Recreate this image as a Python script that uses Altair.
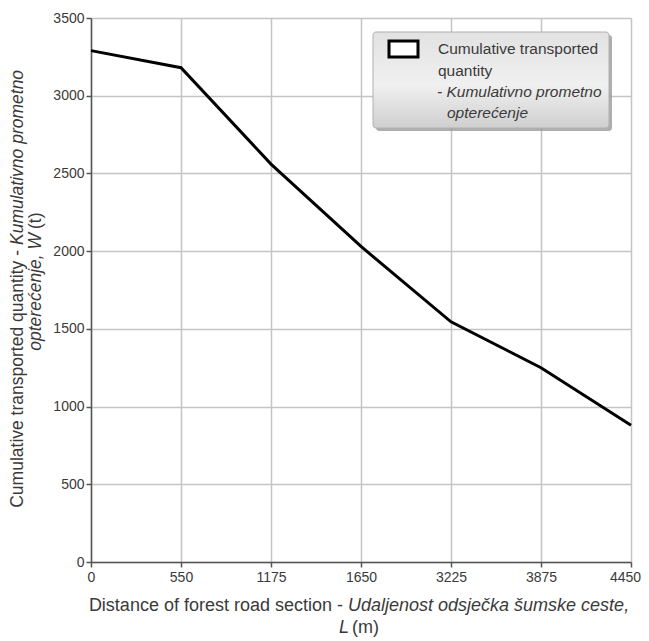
import altair as alt
import pandas as pd

# ---- data ----
distance_labels = ["0", "550", "1175", "1650", "3225", "3875", "4450"]
transported = [3290, 3180, 2560, 2030, 1545, 1250, 880]
y_ticks = [0, 500, 1000, 1500, 2000, 2500, 3000, 3500]

legend_lines = ["Cumulative transported", "quantity"]
legend_lines_it = ["- Kumulativno prometno", "opterećenje"]
x_title_1 = ["Distance of forest road section -", "Udaljenost odsječka šumske ceste,"]
x_title_2 = ["L", "(m)"]
y_title_1 = ["Cumulative transported quantity -", "Kumulativno prometno"]
y_title_2 = ["opterećenje, W", "(t)"]

FONT = "Liberation Sans"
TXT = "#3a3a3a"

df = pd.DataFrame({"L": distance_labels, "W": transported})
one = pd.DataFrame({"k": [0]})

x_enc = alt.X("L:O", sort=distance_labels,
              scale=alt.Scale(padding=0),
              axis=alt.Axis(title=None, labelAngle=0, grid=True, labelPadding=3,
                            labelOffset={"condition": {"test": "datum.label == '4450'", "value": -6},
                                         "value": 0}))
y_enc = alt.Y("W:Q", scale=alt.Scale(domain=[0, 3500], nice=False),
              axis=alt.Axis(title=None, values=y_ticks, format="d", grid=True, labelPadding=2))

line = alt.Chart(df).mark_line(color="black", strokeWidth=3).encode(x=x_enc, y=y_enc)


def txt(s, x, y, italic=False, align="left", angle=0, size=18, color=TXT):
    kw = dict(font=FONT, fontSize=size, color=color, align=align, baseline="middle")
    if italic:
        kw["fontStyle"] = "italic"
    if angle:
        kw["angle"] = angle
    return alt.Chart(pd.DataFrame({"t": [s]})).mark_text(**kw).encode(
        text="t:N", x=alt.value(x), y=alt.value(y))


# legend box
shadow = alt.Chart(one).mark_rect(fill="#9a9a9a", opacity=0.8, cornerRadius=3).encode(
    x=alt.value(285), x2=alt.value(521), y=alt.value(17), y2=alt.value(113))
box = alt.Chart(one).mark_rect(
    fill=alt.Gradient(gradient="linear", x1=0, x2=0, y1=0, y2=1,
                      stops=[alt.GradientStop(offset=0, color="#e2e2e2"),
                             alt.GradientStop(offset=0.55, color="#f0f0f0"),
                             alt.GradientStop(offset=1, color="#cfcfcf")]),
    stroke="#b0b0b0", strokeWidth=1, cornerRadius=3).encode(
    x=alt.value(282), x2=alt.value(518), y=alt.value(14), y2=alt.value(110))
symbol = alt.Chart(one).mark_rect(fill="white", stroke="black", strokeWidth=3).encode(
    x=alt.value(298), x2=alt.value(327), y=alt.value(23), y2=alt.value(39))

layers = [line, shadow, box, symbol,
          txt(legend_lines[0], 347, 31, size=15.5),
          txt(legend_lines[1], 347, 53, size=15.5),
          txt(legend_lines_it[0], 346, 74, italic=True, size=15.5),
          txt(legend_lines_it[1], 356, 95, italic=True, size=15.5),
          # x title
          txt(x_title_1[0], 252, 588, align="right"),
          txt(x_title_1[1], 257, 588, italic=True),
          txt(x_title_2[0], 258, 610, italic=True, align="right"),
          txt(x_title_2[1], 261, 610),
          # y title
          txt(y_title_1[0], -73, 232, align="right", angle=270, size=17.5),
          txt(y_title_1[1], -73, 227, italic=True, align="left", angle=270, size=17.5),
          txt(y_title_2[0], -55, 215, italic=True, align="right", angle=270, size=17.5),
          txt(y_title_2[1], -55, 211, align="left", angle=270, size=17.5)]

chart = alt.layer(*layers).properties(
    width=540, height=544,
    autosize=alt.AutoSizeParams(type="none"),
    padding={"left": 83, "top": 10, "right": 10, "bottom": 76},
    background="white",
).configure_view(strokeOpacity=0).configure_axis(
    domainColor="#555555", domainWidth=1.5,
    tickColor="#555555", tickWidth=1.5, tickSize=5,
    gridColor="#c4c4c4", gridWidth=1.5,
    labelColor=TXT, labelFont=FONT, labelFontSize=14,
)

chart.save("out.html", embed_options={"renderer": "svg", "actions": False})
